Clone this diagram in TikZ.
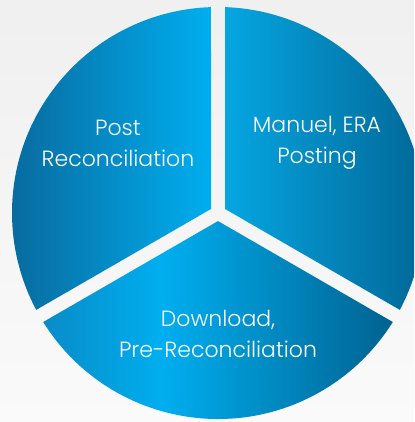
\documentclass[tikz,border=0pt]{standalone}
\usepackage{fontspec}
\setmainfont{Poppins}[UprightFont=* Light]
\usepackage{tikz}
\usetikzlibrary{positioning,calc}

\definecolor{piebright}{RGB}{0,174,239}
\definecolor{leftdark}{RGB}{8,106,158}
\definecolor{rightlight}{RGB}{6,166,226}
\definecolor{rightdark}{RGB}{0,94,140}
\definecolor{bottomleft}{RGB}{8,140,200}
\definecolor{bottomdark}{RGB}{0,98,145}

\pgfdeclarehorizontalshading{leftshade}{100bp}{color(0bp)=(leftdark); color(25bp)=(leftdark); color(75bp)=(piebright); color(100bp)=(piebright)}
\pgfdeclarehorizontalshading{rightshade}{100bp}{color(0bp)=(rightlight); color(25bp)=(rightlight); color(75bp)=(rightdark); color(100bp)=(rightdark)}
\pgfdeclarehorizontalshading{bottomshade}{100bp}{color(0bp)=(bottomleft); color(25bp)=(bottomleft); color(42bp)=(piebright); color(75bp)=(bottomdark); color(100bp)=(bottomdark)}

\tikzset{
  pielabel/.style={text=white, align=center, font=\fontsize{22}{31}\selectfont}
}

\begin{document}
\begin{tikzpicture}
    % Background
    \useasboundingbox (0,0) rectangle (414pt,422pt);
    \clip (0,0) rectangle (414pt,422pt);
    \shade[top color=black!6, bottom color=black!2] (0,0) rectangle (414pt,422pt);

    \begin{scope}[shift={(218pt,209pt)}]
    % Three sectors, 14pt white gap between them
    \foreach \ang/\shd in {150/leftshade, 30/rightshade, 270/bottomshade}
        \shade[shading=\shd] (\ang:8.08pt) -- (\ang-58.05:206pt)
            arc[start angle=\ang-58.05, end angle=\ang+58.05, radius=206pt] -- cycle;

    % Labels
    \node[pielabel] (post) at (-100pt,70pt) {Post\\Reconciliation};
    \node[pielabel] (manuel) at (99pt,70pt) {Manuel, ERA\\Posting};
    \node[pielabel] (download) at (0pt,-121pt) {Download,\\Pre-Reconciliation};
    \end{scope}
\end{tikzpicture}
\end{document}
